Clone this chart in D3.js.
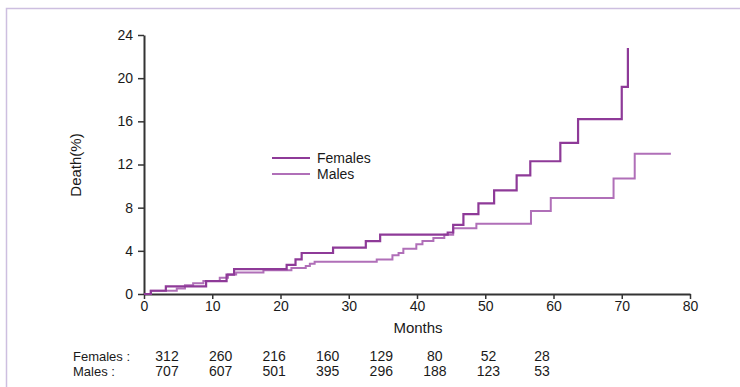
<!DOCTYPE html>
<html>
<head>
<meta charset="utf-8">
<script src="https://cdn.jsdelivr.net/npm/d3@7"></script>
<style>
  body { margin: 0; background: #fff; }
  svg text { font-family: "Liberation Sans", Arial, sans-serif; fill: #1a1a1a; }
  .num { font-family: "Liberation Sans Narrow", "Liberation Sans", sans-serif; }
</style>
</head>
<body>
<svg id="chart" width="740" height="387"></svg>
<script>
// Kaplan-Meier style cumulative deaths
const femaleMonths = [0, 1, 3.2, 9.1, 12.1, 13.2, 20.9, 22.2, 23.1, 27.7, 32.5, 34.6, 44.5, 45.3, 46.8, 49.0, 51.3, 54.6, 56.6, 61.0, 63.6, 70.0, 70.9];
const femaleDeath  = [0, 0.3, 0.7, 1.2, 1.8, 2.3, 2.7, 3.2, 3.8, 4.3, 4.9, 5.5, 5.7, 6.4, 7.4, 8.4, 9.6, 11.0, 12.3, 14.0, 16.2, 19.2, 22.8];

const maleMonths = [0, 1, 4.8, 6.0, 7.2, 8.7, 11.1, 12.3, 13.5, 17.5, 21.6, 23.7, 24.3, 25.0, 34.1, 36.4, 37.3, 38.0, 39.9, 40.8, 42.4, 44.0, 45.3, 48.7, 56.7, 59.6, 68.8, 71.9, 77.2];
const maleDeath  = [0, 0.3, 0.5, 0.8, 1.0, 1.2, 1.5, 1.8, 2.0, 2.2, 2.4, 2.6, 2.8, 3.0, 3.2, 3.6, 3.8, 4.2, 4.6, 4.9, 5.2, 5.5, 6.1, 6.5, 7.7, 8.9, 10.7, 13.0, 13.0];

const xTicks = [0, 10, 20, 30, 40, 50, 60, 70, 80];
const yTicks = [0, 4, 8, 12, 16, 20, 24];

const riskLabels = ['Females :', 'Males :'];
const femalesAtRisk = [312, 260, 216, 160, 129, 80, 52, 28];
const malesAtRisk   = [707, 607, 501, 395, 296, 188, 123, 53];

const femaleColor = '#8e3a98';
const maleColor = '#b06fb8';

const svg = d3.select('#chart');

// frame
svg.append('path')
  .attr('d', 'M6.5,387 V8.5 H740')
  .attr('fill', 'none')
  .attr('stroke', '#cdbfe0')
  .attr('stroke-width', 1.5);

const x = d3.scaleLinear().domain([0, 80]).range([144, 690]);
const y = d3.scaleLinear().domain([0, 24]).range([294, 35]);

// axes
const xAxis = d3.axisBottom(x).tickValues(xTicks).tickSize(5).tickPadding(2).tickSizeOuter(0);
const yAxis = d3.axisLeft(y).tickValues(yTicks).tickSize(6).tickPadding(5).tickSizeOuter(0);

const gx = svg.append('g').attr('transform', 'translate(0,294)').call(xAxis);
const gy = svg.append('g').attr('transform', 'translate(144,0)').call(yAxis);

[gx, gy].forEach(g => {
  g.select('.domain').attr('stroke', '#333').attr('stroke-width', 2);
  g.selectAll('.tick line').attr('stroke', '#333').attr('stroke-width', 1.5);
  g.selectAll('.tick text')
    .attr('class', 'num')
    .style('font-size', '14px')
    .attr('fill', '#1a1a1a');
});

svg.append('text')
  .attr('transform', 'translate(81,165) rotate(-90)')
  .attr('text-anchor', 'middle')
  .style('font-size', '15px')
  .text('Death(%)');

svg.append('text')
  .attr('x', 418).attr('y', 333)
  .attr('text-anchor', 'middle')
  .style('font-size', '15px')
  .text('Months');

// curves
const line = d3.line()
  .x(d => x(d[0]))
  .y(d => y(d[1]))
  .curve(d3.curveStepAfter);

const maleData = maleMonths.map((m, i) => [m, maleDeath[i]]);
const femaleData = femaleMonths.map((m, i) => [m, femaleDeath[i]]);

svg.append('path')
  .datum(maleData)
  .attr('d', line)
  .attr('fill', 'none')
  .attr('stroke', maleColor)
  .attr('stroke-width', 2);

svg.append('path')
  .datum(femaleData)
  .attr('d', line)
  .attr('fill', 'none')
  .attr('stroke', femaleColor)
  .attr('stroke-width', 2.2);

// legend
const legend = svg.append('g').attr('transform', 'translate(272,158)');
[['Females', femaleColor], ['Males', maleColor]].forEach((d, i) => {
  legend.append('line')
    .attr('x1', 0).attr('x2', 38)
    .attr('y1', i * 16).attr('y2', i * 16)
    .attr('stroke', d[1]).attr('stroke-width', 2);
  legend.append('text')
    .attr('x', 45).attr('y', i * 16 + 5)
    .style('font-size', '14px')
    .text(d[0]);
});

// numbers at risk
const col = d3.scaleLinear().domain([0, 7]).range([167, 542]);
const rows = [femalesAtRisk, malesAtRisk];
rows.forEach((vals, r) => {
  const ry = 361 + r * 15;
  svg.append('text')
    .attr('x', 73).attr('y', ry)
    .style('font-size', '13px')
    .text(riskLabels[r]);
  svg.selectAll(null)
    .data(vals)
    .enter()
    .append('text')
    .attr('class', 'num')
    .attr('x', (d, i) => col(i))
    .attr('y', ry)
    .attr('text-anchor', 'middle')
    .style('font-size', '14px')
    .text(d => d);
});
</script>
</body>
</html>
